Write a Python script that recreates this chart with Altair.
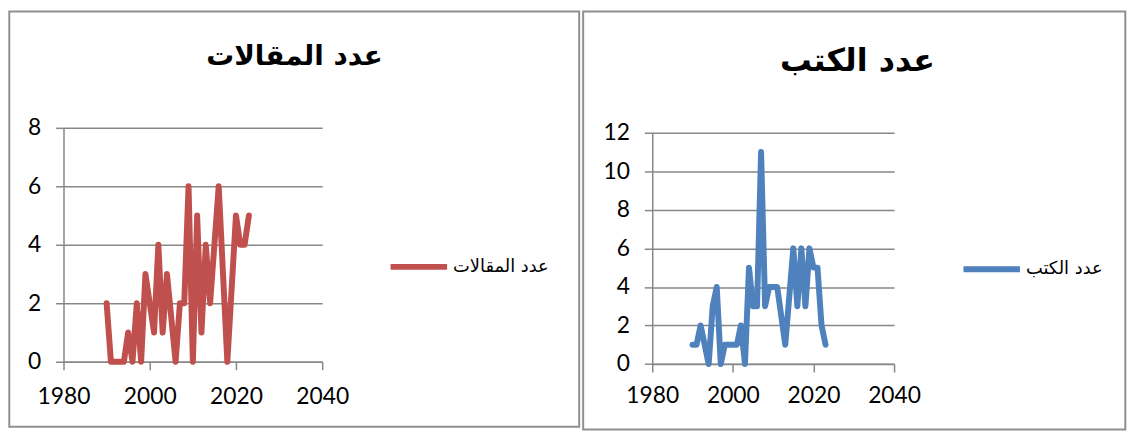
import altair as alt
import pandas as pd

# ---- data ----
articles_name = "عدد المقالات"
articles_years = [1990, 1991, 1992, 1993, 1994, 1995, 1996, 1997, 1998, 1999, 2000, 2001, 2002, 2003, 2004,
                  2006, 2007, 2008, 2009, 2010, 2011, 2012, 2013, 2014, 2015, 2016, 2017, 2018,
                  2020, 2021, 2022, 2023]
articles_counts = [2, 0, 0, 0, 0, 1, 0, 2, 0, 3, 2, 1, 4, 1, 3,
                   0, 2, 2, 6, 0, 5, 1, 4, 2, 4, 6, 3, 0,
                   5, 4, 4, 5]

books_name = "عدد الكتب"
books_years = [1990, 1991, 1992, 1993, 1994, 1995, 1996, 1997, 1998, 1999, 2000, 2001, 2002, 2003, 2004,
               2005, 2006, 2007, 2008, 2009, 2010, 2011, 2013, 2015, 2016, 2017, 2018, 2019,
               2020, 2021, 2022, 2023]
books_counts = [1, 1, 2, 1, 0, 3, 4, 0, 1, 1, 1, 1, 2, 0, 5,
                3, 3, 11, 3, 4, 4, 4, 1, 6, 3, 6, 3, 6,
                5, 5, 2, 1]

x_ticks = [1980, 2000, 2020, 2040]

GRID = "#878787"
LABEL_FONT = "Lato"
AR_FONT = "DejaVu Sans"


def panel(years, counts, name, color, ymax, width, height, y_top, rect, title_xy, title_size,
          legend_xy, x_pad):
    df = pd.DataFrame({"year": years, "count": counts, "series": [name] * len(years)})

    border = alt.Chart(alt.Data(values=[{"k": 1}])).mark_rect(
        fill="white", fillOpacity=0, stroke="#8f8f8f", strokeWidth=2
    ).encode(
        x=alt.value(rect[0]), x2=alt.value(rect[1]),
        y=alt.value(rect[2]), y2=alt.value(rect[3]),
    )

    title = alt.Chart(alt.Data(values=[{"t": name}])).mark_text(
        font=AR_FONT, fontSize=title_size, fontWeight="bold", align="center", baseline="middle",
        color="black"
    ).encode(
        x=alt.value(title_xy[0]), y=alt.value(title_xy[1]), text="t:N"
    )

    line = alt.Chart(df).mark_line(
        strokeWidth=6, strokeCap="round", strokeJoin="round"
    ).encode(
        x=alt.X("year:Q",
                scale=alt.Scale(domain=[1980, 2040], nice=False, zero=False),
                axis=alt.Axis(values=x_ticks, title=None, grid=False, format="d",
                              labelPadding=x_pad, labelFlush=False, labelOverlap=False)),
        y=alt.Y("count:Q",
                scale=alt.Scale(domain=[0, ymax], nice=False, range=[height, y_top]),
                axis=alt.Axis(values=list(range(0, ymax + 1, 2)), title=None, grid=True,
                              labelPadding=15, labelFlush=False, labelOverlap=False)),
        color=alt.Color("series:N",
                        scale=alt.Scale(domain=[name], range=[color]),
                        legend=alt.Legend(orient="none", legendX=legend_xy[0], legendY=legend_xy[1],
                                          title=None, symbolType="stroke", symbolSize=3249,
                                          symbolStrokeWidth=6, symbolStrokeColor=color,
                                          labelFont=AR_FONT, labelFontSize=18, labelColor="black",
                                          labelOffset=3)),
        order="year:Q",
    )

    return alt.layer(border, title, line).properties(width=width, height=height)


left = panel(articles_years, articles_counts, articles_name, "#C0504D", 8, 261, 236, 0,
             rect=(-54.7, 520.3, -117.4, 301.6), title_xy=(233, -71.4), title_size=28,
             legend_xy=(327, 108.8), x_pad=16)
right = panel(books_years, books_counts, books_name, "#4F81BD", 12, 244, 238.3, 4.9,
              rect=(-69.7, 477.3, -117.4, 304.3), title_xy=(207, -67.4), title_size=32,
              legend_xy=(311, 111.1), x_pad=13)

chart = alt.concat(left, right, columns=2, spacing=1, align="none").resolve_scale(
    color="independent"
).resolve_legend(
    color="independent"
).properties(
    padding=0
).configure_view(
    strokeWidth=0
).configure_axis(
    labelFont=LABEL_FONT, labelFontSize=23, labelColor="black",
    domainColor=GRID, domainWidth=1.5, tickColor=GRID, tickWidth=1.5, tickSize=8,
    gridColor=GRID, gridWidth=1.5, gridOpacity=1
)

chart.save("out.html", embed_options={"renderer": "svg", "actions": False})
